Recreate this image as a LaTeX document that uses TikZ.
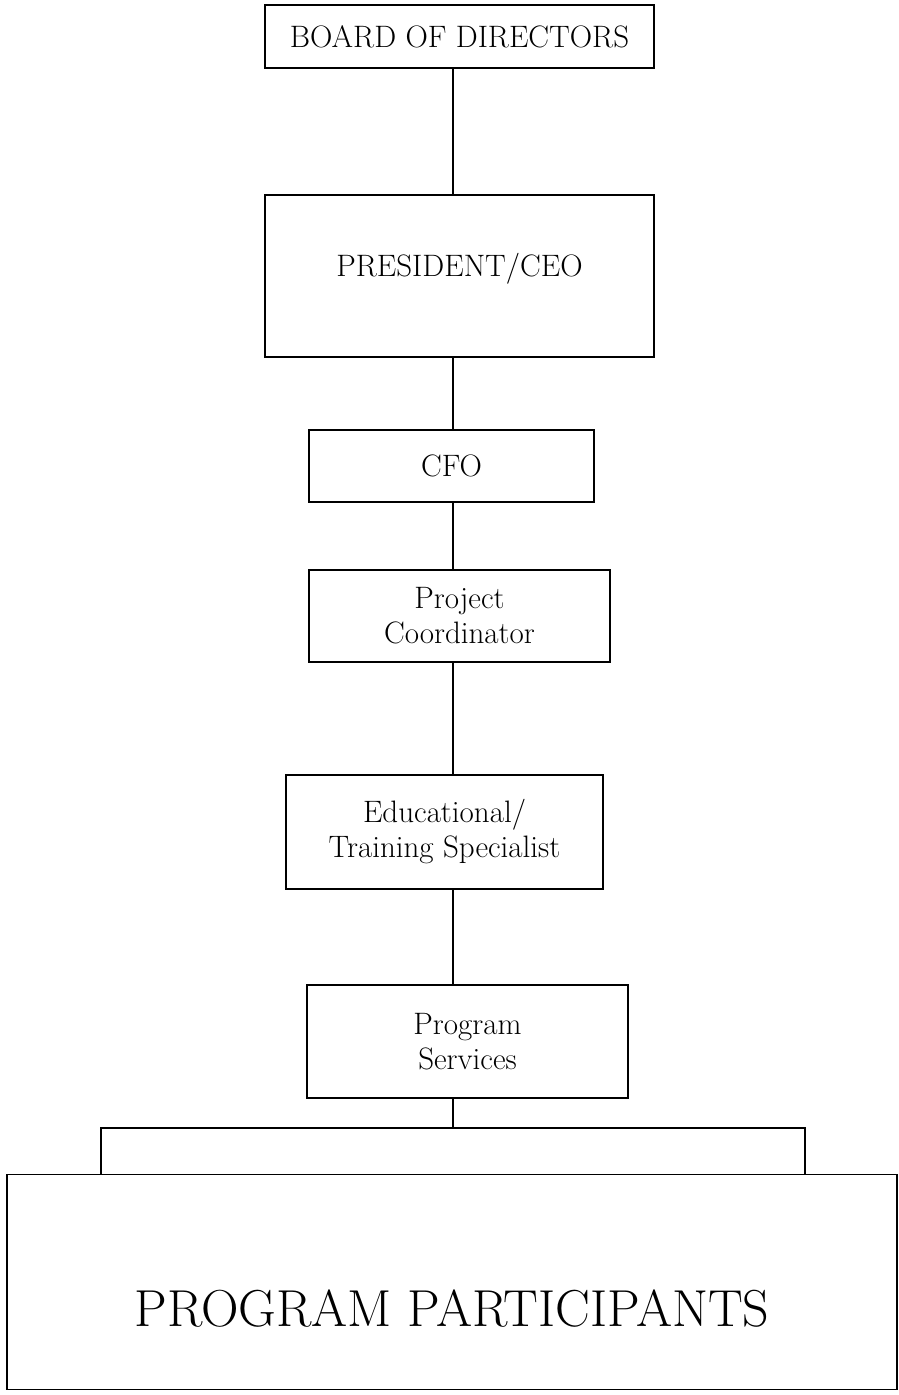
\documentclass[tikz,border=0pt]{standalone}
\begin{document}
\begin{tikzpicture}[x=1pt,y=-1pt,
  orgbox/.style={draw, line width=1.8pt, inner sep=0pt, align=center},
  capsfont/.style={font=\fontsize{31}{36}\selectfont},
  smallfont/.style={font=\fontsize{31}{35}\selectfont},
  link/.style={line width=1.8pt}]
\useasboundingbox (0,0) rectangle (899,1395);
\fill[white] (0,0) rectangle (899,1395);
\node[orgbox, capsfont, minimum width=389pt, minimum height=63pt] (board) at (459.5,36.5) {BOARD OF DIRECTORS};
\node[orgbox, capsfont, minimum width=389pt, minimum height=162pt] (pres) at (459.5,276) {\raisebox{-0.5pt}[0pt][0pt]{PRESIDENT/CEO}};
\node[orgbox, capsfont, minimum width=285pt, minimum height=72pt] (cfo) at (451.5,466) {CFO};
\node[orgbox, smallfont, minimum width=301pt, minimum height=92pt] (pc) at (459.5,616) {Project\\Coordinator};
\node[orgbox, smallfont, minimum width=317pt, minimum height=114pt] (edu) at (444.5,832) {Educational/\\Training Specialist};
\node[orgbox, smallfont, minimum width=321pt, minimum height=113pt] (ps) at (467.5,1041.5) {Program\\Services};
\node[orgbox, minimum width=890pt, minimum height=215pt,
  font=\fontsize{52}{56}\selectfont] (pp) at (452,1282) {\raisebox{-44pt}[0pt][0pt]{PROGRAM PARTICIPANTS}};
\coordinate (cx) at (453,0);
\coordinate (bl) at (101,1128);
\coordinate (br) at (805,1128);
\draw[link] (board.south -| cx) -- (pres.north -| cx);
\draw[link] (pres.south -| cx) -- (cfo.north -| cx);
\draw[link] (cfo.south -| cx) -- (pc.north -| cx);
\draw[link] (pc.south -| cx) -- (edu.north -| cx);
\draw[link] (edu.south -| cx) -- (ps.north -| cx);
\draw[link] (ps.south -| cx) -- (cx |- bl);
\draw[link] (bl |- pp.north) -- (bl) -- (br) -- (br |- pp.north);
\end{tikzpicture}
\end{document}
